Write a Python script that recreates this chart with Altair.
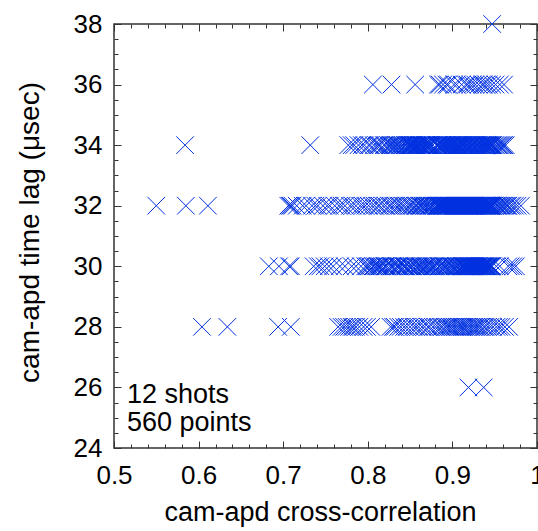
import altair as alt
import pandas as pd

# ---- data: cross-correlation value of every point, one list per time-lag row ----
x_row26 = [0.919, 0.937]

x_row28 = [0.604, 0.634, 0.694, 0.709,
           0.765, 0.769, 0.772, 0.775, 0.778, 0.781, 0.783, 0.786, 0.790, 0.795, 0.799, 0.804,
           0.827, 0.830, 0.832, 0.836, 0.839, 0.843, 0.846, 0.850, 0.854, 0.857,
           0.860, 0.864, 0.867, 0.871, 0.873, 0.877, 0.880, 0.883, 0.886, 0.888,
           0.891, 0.893, 0.895, 0.897, 0.899, 0.901, 0.903, 0.905, 0.907, 0.909,
           0.911, 0.912, 0.914, 0.916, 0.918, 0.920, 0.922, 0.924, 0.926, 0.928,
           0.930, 0.932, 0.934, 0.937, 0.939, 0.942, 0.945, 0.948, 0.952, 0.955,
           0.958, 0.962, 0.967]

x_row30 = [0.683, 0.695, 0.707, 0.709,
           0.736, 0.741, 0.744, 0.749, 0.754, 0.759, 0.767, 0.773, 0.781, 0.786,
           0.792, 0.797, 0.799, 0.801, 0.803, 0.806, 0.807, 0.809, 0.811, 0.814,
           0.815, 0.817, 0.820, 0.821, 0.823, 0.826, 0.828, 0.829, 0.831, 0.834,
           0.835, 0.837, 0.839, 0.842, 0.843, 0.845, 0.848, 0.849, 0.851, 0.853,
           0.856, 0.857, 0.859, 0.862, 0.863, 0.865, 0.867, 0.870, 0.871, 0.873,
           0.875, 0.878, 0.879, 0.881, 0.884, 0.885, 0.887, 0.889, 0.892, 0.893,
           0.895, 0.897, 0.900, 0.901, 0.903, 0.905, 0.908, 0.909, 0.911,
           0.912, 0.913, 0.914, 0.915, 0.916, 0.917, 0.918, 0.919, 0.920, 0.921,
           0.922, 0.923, 0.924, 0.925, 0.926, 0.927, 0.928, 0.929, 0.930, 0.931,
           0.932, 0.933, 0.934, 0.935, 0.936, 0.937, 0.938, 0.939, 0.940, 0.941,
           0.942, 0.943, 0.944, 0.945, 0.946, 0.947,
           0.952, 0.956, 0.966, 0.969, 0.972, 0.975,
           0.8985, 0.9045, 0.9125, 0.9155, 0.9195, 0.9235, 0.9265, 0.9305, 0.9345, 0.9385,
           0.9415, 0.9455, 0.9125, 0.8845, 0.8765, 0.8685, 0.8605, 0.8525, 0.8445, 0.8365,
           0.8285, 0.8205, 0.8125, 0.9065, 0.8905, 0.9285, 0.9365, 0.9205]

x_row32 = [0.550, 0.585, 0.611,
           0.706, 0.708, 0.709, 0.711,
           0.716, 0.723, 0.727, 0.734, 0.738, 0.741, 0.747, 0.752, 0.755, 0.761,
           0.766, 0.769, 0.773, 0.779, 0.782, 0.786, 0.791, 0.794, 0.797, 0.801,
           0.805, 0.808, 0.812, 0.814, 0.818, 0.821, 0.825, 0.827, 0.830, 0.833,
           0.836, 0.838, 0.841, 0.843, 0.846, 0.849, 0.851, 0.853, 0.856, 0.858,
           0.861, 0.863, 0.865, 0.867, 0.869, 0.871, 0.873, 0.875, 0.877, 0.879,
           0.881, 0.882, 0.883, 0.884, 0.885, 0.887, 0.888, 0.889, 0.890, 0.891,
           0.892, 0.894, 0.895, 0.896, 0.897, 0.898, 0.899, 0.901, 0.902, 0.903,
           0.904, 0.905, 0.906, 0.908, 0.909, 0.910, 0.911, 0.912, 0.913, 0.915,
           0.916, 0.917, 0.918, 0.919, 0.920, 0.922, 0.923, 0.924, 0.925, 0.926,
           0.927, 0.929, 0.930, 0.931, 0.932, 0.933, 0.934, 0.936, 0.937, 0.938,
           0.939, 0.940, 0.941, 0.943, 0.944, 0.945, 0.946, 0.947, 0.948,
           0.886, 0.893, 0.900, 0.907, 0.914, 0.921, 0.928, 0.935, 0.942,
           0.950, 0.952, 0.955, 0.957, 0.960, 0.962, 0.964, 0.966, 0.969, 0.971,
           0.974, 0.977, 0.981,
           0.8815, 0.8845, 0.8865, 0.8895, 0.8925, 0.8945, 0.8975, 0.9005, 0.9035, 0.9055,
           0.9085, 0.9105, 0.9135, 0.9165, 0.9185, 0.9205, 0.9235, 0.9255, 0.9285, 0.9305,
           0.9335, 0.9355, 0.9385, 0.9405, 0.9435, 0.9455, 0.9475, 0.8575, 0.8625, 0.8685,
           0.8725, 0.8765, 0.9535, 0.9585, 0.9655]

x_row34 = [0.584, 0.732,
           0.777, 0.781, 0.784, 0.789, 0.793, 0.796, 0.801, 0.803, 0.807, 0.810,
           0.813, 0.815, 0.819, 0.821, 0.824, 0.826, 0.829, 0.831, 0.833, 0.836,
           0.838, 0.840, 0.842, 0.844, 0.845, 0.847, 0.848, 0.849,
           0.850, 0.851, 0.852, 0.853, 0.855, 0.856, 0.857, 0.858, 0.859, 0.861,
           0.862, 0.863, 0.864, 0.866, 0.867, 0.868, 0.869, 0.870, 0.872, 0.873,
           0.874, 0.875, 0.877, 0.881, 0.882, 0.883, 0.884, 0.886, 0.887, 0.888,
           0.889, 0.890, 0.892, 0.893, 0.894, 0.895, 0.896, 0.898, 0.899, 0.900,
           0.901, 0.902, 0.904, 0.905, 0.906, 0.907, 0.908, 0.910, 0.911, 0.912,
           0.913, 0.914, 0.916, 0.917, 0.918, 0.919, 0.920, 0.922, 0.923, 0.924,
           0.925, 0.926, 0.928, 0.929, 0.930, 0.931, 0.932, 0.934, 0.935, 0.936,
           0.937, 0.939, 0.940, 0.941, 0.942, 0.943, 0.945, 0.946, 0.947, 0.948,
           0.950, 0.952, 0.954, 0.957, 0.959, 0.961, 0.963,
           0.8505, 0.8535, 0.8575, 0.8605, 0.8645, 0.8685, 0.8715, 0.8745, 0.8835, 0.8875,
           0.8915, 0.8975, 0.9035, 0.9085, 0.9125, 0.9155, 0.9215, 0.9275, 0.9335, 0.9385,
           0.9445, 0.9475, 0.8125, 0.8275, 0.8345, 0.8415, 0.9555, 0.9605, 0.8985, 0.9065]

x_row36 = [0.806, 0.828, 0.856, 0.883, 0.885, 0.889, 0.893, 0.895, 0.902, 0.905,
           0.911, 0.916, 0.918, 0.921, 0.924, 0.927, 0.931, 0.935, 0.937, 0.940,
           0.943, 0.947, 0.951, 0.956, 0.961]

x_row38 = [0.947]

lag_rows = [26, 28, 30, 32, 34, 36, 38]
corr_rows = [x_row26, x_row28, x_row30, x_row32, x_row34, x_row36, x_row38]

x_major = [0.5, 0.6, 0.7, 0.8, 0.9, 1.0]
y_major = [24, 26, 28, 30, 32, 34, 36, 38]
x_minor = [round(0.5 + 0.02 * i, 2) for i in range(26)]
y_minor = [24 + 0.5 * i for i in range(29)]
note_lines = ["12 shots", "560 points"]

records = [{"corr": c, "lag": lag} for lag, cs in zip(lag_rows, corr_rows) for c in cs]
df = pd.DataFrame(records)

FONT = "Liberation Sans"
INK = "#333333"
BLUE = "#0030e0"
FS = 26

xscale = alt.Scale(domain=[0.5, 1.0], nice=False, zero=False)
yscale = alt.Scale(domain=[24, 38], nice=False, zero=False)

base = alt.Chart(df)

points = base.mark_point(
    shape="M-1,-1L1,1M-1,1L1,-1", size=310, filled=False,
    color=BLUE, strokeWidth=1, opacity=1
).encode(
    x=alt.X("corr:Q", scale=xscale, axis=alt.Axis(
        orient="bottom", values=x_major,
        labelExpr="datum.value == 1 ? '1' : format(datum.value, '.1f')",
        ticks=False, tickSize=0, domain=False, grid=False,
        labelPadding=14.5, labelFont=FONT, labelFontSize=FS, labelColor="black",
        labelFlush=False, labelOverlap=False,
        title="cam-apd cross-correlation", titleFont=FONT, titleFontSize=27,
        titleFontWeight="normal", titleColor="black",
        titleX=206, titleY=72, titleBaseline="alphabetic", titleAlign="center")),
    y=alt.Y("lag:Q", scale=yscale, axis=alt.Axis(
        orient="left", values=y_major, format="d",
        ticks=False, tickSize=0, domain=False, grid=False,
        labelPadding=12, labelFont=FONT, labelFontSize=FS, labelColor="black",
        labelFlush=False, labelOverlap=False,
        title="cam-apd time lag (μsec)", titleFont=FONT, titleFontSize=28,
        titleFontWeight="normal", titleColor="black",
        titleX=-76, titleY=208, titleAngle=270,
        titleBaseline="alphabetic", titleAlign="center")),
)

anchor = base.transform_aggregate(mx="mean(corr)", my="mean(lag)").mark_point(opacity=0)


def tick_layer(xorient, yorient, xvals, yvals, size):
    common = dict(labels=False, domain=False, grid=False, ticks=True,
                  tickSize=size, offset=-size, tickColor=INK, tickWidth=1, title=None)
    return anchor.encode(
        x=alt.X("mx:Q", scale=xscale, axis=alt.Axis(orient=xorient, values=xvals, **common)),
        y=alt.Y("my:Q", scale=yscale, axis=alt.Axis(orient=yorient, values=yvals, **common)),
    )


ticks = [
    tick_layer("bottom", "left", x_minor, y_minor, 4),
    tick_layer("bottom", "left", x_major, y_major, 7),
    tick_layer("top", "right", x_minor, y_minor, 4),
    tick_layer("top", "right", x_major, y_major, 7),
]

note1 = alt.Chart(pd.DataFrame({"note": [note_lines[0]]})).mark_text(
    font=FONT, fontSize=27, color="black", align="left", baseline="alphabetic"
).encode(text="note:N", x=alt.value(13), y=alt.value(379))
note2 = alt.Chart(pd.DataFrame({"note": [note_lines[1]]})).mark_text(
    font=FONT, fontSize=27, color="black", align="left", baseline="alphabetic"
).encode(text="note:N", x=alt.value(13), y=alt.value(407))

chart = alt.layer(*ticks, points, note1, note2).resolve_axis(
    x="independent", y="independent"
).properties(
    width=423, height=424,
    padding={"left": 114, "top": 24, "right": 1, "bottom": 83},
    autosize=alt.AutoSizeParams(type="none"),
    background="white",
).configure_view(stroke=INK, strokeWidth=1.5).configure_axis(grid=False)

chart.save("out.html", embed_options={"renderer": "svg", "actions": False})
